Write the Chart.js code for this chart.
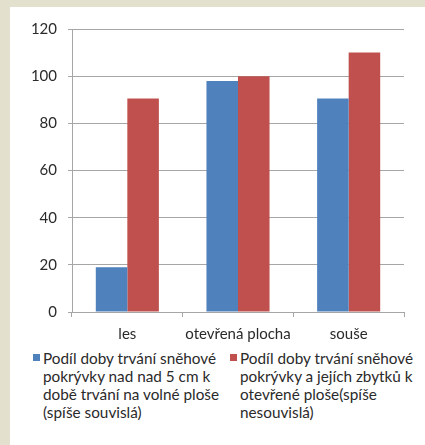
<!DOCTYPE html>
<html>
<head>
<meta charset="utf-8">
<script src="https://cdn.jsdelivr.net/npm/chart.js@4"></script>
<style>
  html, body { margin: 0; padding: 0; }
  body { width: 425px; height: 445px; background: #e3e0cd; position: relative; overflow: hidden; font-family: Lato, "Open Sans", sans-serif; }
  #panel { position: absolute; left: 10px; top: 7px; width: 415px; height: 438px; background: #ffffff; }
  #wrap { position: absolute; left: 0; top: 0; width: 415px; height: 338px; }
  .leg { position: absolute; top: 342px; font-size: 15.3px; line-height: 18px; color: #2a2a2a; }
  .leg .box { position: absolute; left: 0; top: 5px; width: 7px; height: 7px; }
  .leg .txt { position: absolute; left: 10px; top: 0; white-space: nowrap; }
</style>
</head>
<body>
<div id="panel">
  <div id="wrap"><canvas id="c"></canvas></div>
  <div class="leg" id="leg0" style="left:23px;"><div class="box"></div><div class="txt"></div></div>
  <div class="leg" id="leg1" style="left:220px;"><div class="box"></div><div class="txt"></div></div>
</div>
<script>
const categories = ["les", "otevřená plocha", "souše"];
const seriesNames = [
  ["Podíl doby trvání sněhové", "pokrývky nad nad 5 cm k", "době trvání na volné ploše", "(spíše souvislá)"],
  ["Podíl doby trvání sněhové", "pokrývky a jejích zbytků k", "otevřené ploše(spíše", "nesouvislá)"]
];
const seriesA = [19, 98, 90.5];
const seriesB = [90.5, 100, 110];
const yTicks = [0, 20, 40, 60, 80, 100, 120];
const colors = ["#4f81bd", "#c0504d"];

const fontFam = "Lato, 'Open Sans', sans-serif";
const txtColor = "#2a2a2a";
const gridColor = "#a6a6a6";

new Chart(document.getElementById("c"), {
  type: "bar",
  data: {
    labels: categories,
    datasets: [
      { label: seriesNames[0].join(" "), data: seriesA, backgroundColor: colors[0], barPercentage: 1, categoryPercentage: 0.57 },
      { label: seriesNames[1].join(" "), data: seriesB, backgroundColor: colors[1], barPercentage: 1, categoryPercentage: 0.57 }
    ]
  },
  options: {
    responsive: true,
    maintainAspectRatio: false,
    animation: false,
    layout: { padding: { top: 22, right: 21, bottom: 0, left: 0 } },
    plugins: { legend: { display: false }, tooltip: { enabled: false } },
    scales: {
      x: {
        offset: true,
        grid: { offset: true, drawOnChartArea: false, drawTicks: true, tickLength: 5, color: gridColor },
        border: { color: gridColor },
        ticks: { color: txtColor, font: { family: fontFam, size: 15 }, padding: 8, maxRotation: 0 },
        afterFit: s => { s.height = 33; }
      },
      y: {
        min: 0, max: 120,
        afterBuildTicks: s => { s.ticks = yTicks.map(v => ({ value: v })); },
        grid: { color: gridColor, tickLength: 4 },
        border: { color: gridColor },
        ticks: { color: txtColor, font: { family: fontFam, size: 15 }, padding: 11 },
        afterFit: s => { s.width = 62; }
      }
    }
  }
});

[0, 1].forEach(i => {
  const el = document.getElementById("leg" + i);
  el.querySelector(".box").style.background = colors[i];
  el.querySelector(".txt").innerHTML = seriesNames[i].map(t => t.replace(/&/g, "&amp;")).join("<br>");
});
</script>
</body>
</html>
